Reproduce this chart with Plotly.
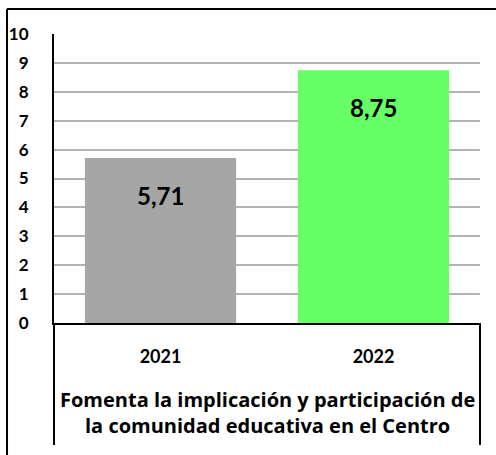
import plotly.graph_objects as go

# datos del gráfico
years = ['2021', '2022']
scores = [5.71, 8.75]
bar_colors = ['#a6a6a6', '#66ff66']
group_title = 'Fomenta la implicación y participación de<br>la comunidad educativa en el Centro'
y_ticks = list(range(0, 11))

FONT = 'Lato'

fig = go.Figure()

fig.add_trace(go.Bar(
    x=years,
    y=scores,
    marker=dict(color=bar_colors, line=dict(width=0)),
    hoverinfo='skip',
    showlegend=False
))

# etiquetas de datos dentro de la barra, con coma decimal
# (en eje categórico la posición va por índice)
for i, v in enumerate(scores):
    fig.add_annotation(
        x=i, y=v, xref='x', yref='y',
        text='<b>' + f'{v:.2f}'.replace('.', ',') + '</b>',
        showarrow=False, yanchor='top', yshift=-21,
        font=dict(family=FONT, size=24, color='black')
    )

# título de la categoría (segundo nivel del eje)
fig.add_annotation(
    x=0.5, y=-0.21, xref='paper', yref='paper',
    text='<b>' + group_title + '</b>',
    showarrow=False, xanchor='center', yanchor='top',
    align='center',
    font=dict(family='Open Sans', size=20, color='black')
)

# marco exterior y separadores del eje de categorías
line_black = dict(color='black', width=2)
fig.add_shape(type='line', xref='paper', yref='paper',
              x0=-0.1103, x1=-0.1103, y0=1.0865, y1=-0.6, line=line_black)
fig.add_shape(type='line', xref='paper', yref='paper',
              x0=-0.1103, x1=1.2, y0=1.0865, y1=1.0865, line=line_black)
fig.add_shape(type='line', xref='paper', yref='paper',
              x0=0, x1=0, y0=0, y1=-0.422, line=line_black)
fig.add_shape(type='line', xref='paper', yref='paper',
              x0=1, x1=1, y0=0, y1=-0.422, line=line_black)

fig.update_layout(
    width=496,
    height=455,
    margin=dict(l=54, r=16, t=34, b=132),
    paper_bgcolor='white',
    plot_bgcolor='white',
    bargap=0.29,
    font=dict(family=FONT, color='black'),
    xaxis=dict(
        type='category',
        range=[-0.5, 1.5],
        showline=True, linecolor='black', linewidth=2,
        showgrid=False, ticks='',
        tickfont=dict(family=FONT, size=18, color='black', weight='bold'),
        ticklabelstandoff=16,
        automargin=False,
        fixedrange=True
    ),
    yaxis=dict(
        range=[0, 10],
        tickvals=y_ticks,
        showline=True, linecolor='black', linewidth=2,
        showgrid=True, gridcolor='#b3b3b3', gridwidth=2,
        zeroline=False, ticks='',
        tickfont=dict(family=FONT, size=17, color='black', weight='bold'),
        ticklabelstandoff=20,
        automargin=False,
        fixedrange=True
    )
)

fig.write_html('out.html', config={'displayModeBar': False},
               post_script="document.body.style.margin='0';")
